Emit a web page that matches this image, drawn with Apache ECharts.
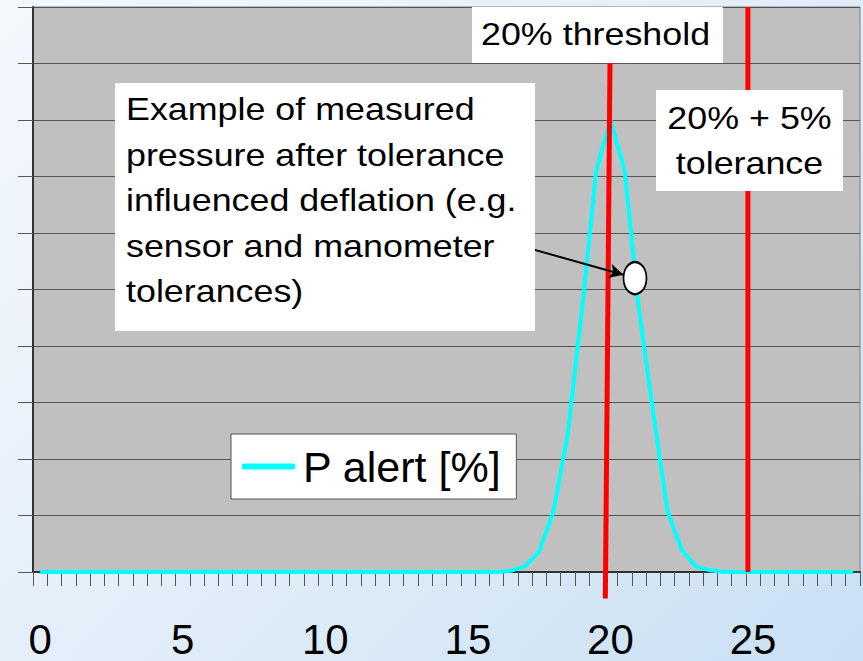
<!DOCTYPE html>
<html>
<head>
<meta charset="utf-8">
<script src="https://cdn.jsdelivr.net/npm/echarts@6/dist/echarts.min.js"></script>
<style>
html,body{margin:0;padding:0;}
#chart{width:863px;height:661px;background:linear-gradient(135deg,#F4F8FD 0%,#E2EEF9 50%,#C9E0F3 100%);}
</style>
</head>
<body>
<div id="chart"></div>
<script>
// x categories (pressure, %), step 0.5
const categories = ['0','0.5','1','1.5','2','2.5','3','3.5','4','4.5','5','5.5','6','6.5','7','7.5','8','8.5','9','9.5',
  '10','10.5','11','11.5','12','12.5','13','13.5','14','14.5','15','15.5','16','16.5','17','17.5','18','18.5','19','19.5',
  '20','20.5','21','21.5','22','22.5','23','23.5','24','24.5','25','25.5','26','26.5','27','27.5','28','28.5'];
// P alert [%] values
const pAlert = [0,0,0,0,0,0,0,0,0,0, 0,0,0,0,0,0,0,0,0,0, 0,0,0,0,0,0,0,0,0,0, 0,0,0,
  0.2,1.0,3.6,10.7,24.3,46.5,71,80,71,46.4,28.2,10.7,3.9,1.0,0.3,
  0,0,0,0,0,0,0,0,0,0];
const seriesName = 'P alert [%]';
// red reference lines: [x, y] end points on a value scale matching the category axis
const thresholdLine = [[20.0, 100], [19.82, -4.7]];
const toleranceLine = [[24.82, 0], [24.82, 100]];
// annotation marker (ellipse) and arrow start, in data units
const markerPoint = [20.86, 52];
const arrowFrom = [16.44, 58.3];
const arrowTo = [20.45, 52.6];
// annotation texts
const thresholdText = '20% threshold';
const toleranceText = '20% + 5%\ntolerance';
const exampleText = 'Example of measured\npressure after tolerance\ninfluenced deflation (e.g.\nsensor and manometer\ntolerances)';

const FONT = '"Liberation Sans", Arial, sans-serif';
const chart = echarts.init(document.getElementById('chart'), null, {renderer: 'svg'});
chart.setOption({
  animation: false,
  backgroundColor: 'transparent',
  grid: {left: 33, right: 3, top: 7, bottom: 89, show: true, backgroundColor: '#C0C0C0', borderColor: '#7f7f7f', borderWidth: 1},
  legend: {
    data: [seriesName], selectedMode: false, left: 231, top: 434,
    backgroundColor: '#fff', borderColor: '#555', borderWidth: 1,
    padding: [11, 15, 11, 11], icon: 'roundRect', itemWidth: 53, itemHeight: 6,
    textStyle: {fontSize: 43, fontFamily: FONT, color: '#000', padding: [0, 0, 0, 3]}
  },
  xAxis: [{
    type: 'category', data: categories, boundaryGap: true,
    axisLine: {show: true, onZero: false, lineStyle: {color: '#333', width: 2}},
    axisTick: {show: true, interval: 0, length: 14, lineStyle: {color: '#555'}},
    axisLabel: {interval: 9, fontSize: 42, fontFamily: FONT, color: '#000', margin: 46},
    splitLine: {show: false}
  }, {
    type: 'value', min: -0.25, max: 28.75, show: false
  }],
  yAxis: {
    type: 'value', min: 0, max: 100, interval: 10,
    axisLine: {show: true, onZero: false, lineStyle: {color: '#333', width: 2}},
    axisTick: {show: true, length: 15, lineStyle: {color: '#555'}},
    axisLabel: {show: false},
    splitLine: {show: true, lineStyle: {color: '#555', width: 1}}
  },
  series: [{
    name: seriesName, type: 'line', data: pAlert, symbol: 'none',
    lineStyle: {color: '#00FFFF', width: 4}, itemStyle: {color: '#00FFFF'}, z: 3
  }, {
    type: 'line', xAxisIndex: 1, data: thresholdLine, symbol: 'none', clip: false, silent: true,
    lineStyle: {color: '#FF0000', width: 5}, z: 4
  }, {
    type: 'line', xAxisIndex: 1, data: toleranceLine, symbol: 'none', clip: false, silent: true,
    lineStyle: {color: '#FF0000', width: 5}, z: 4
  }, {
    type: 'scatter', xAxisIndex: 1, data: [markerPoint], symbol: 'circle', symbolSize: [23, 32], silent: true,
    itemStyle: {color: '#fff', borderColor: '#000', borderWidth: 2, opacity: 1}, z: 6,
    markLine: {
      silent: true, symbol: ['none', 'arrow'], symbolSize: [11, 14],
      label: {show: false},
      lineStyle: {color: '#000', width: 2, type: 'solid'},
      data: [[{coord: arrowFrom}, {coord: arrowTo}]]
    }
  }],
  graphic: [
    {type: 'rect', shape: {x: 115, y: 83, width: 420, height: 248}, style: {fill: '#fff'}, z: 100},
    {type: 'text', x: 126, y: 200, scaleX: 1.12, z: 101,
      style: {text: exampleText, font: '32px ' + FONT, fill: '#000', lineHeight: 45.5, textAlign: 'left', textVerticalAlign: 'middle'}},
    {type: 'rect', shape: {x: 472, y: 7, width: 251, height: 56}, style: {fill: '#fff'}, z: 100},
    {type: 'text', x: 481, y: 34, scaleX: 1.12, z: 101,
      style: {text: thresholdText, font: '32px ' + FONT, fill: '#000', textAlign: 'left', textVerticalAlign: 'middle'}},
    {type: 'rect', shape: {x: 656, y: 90, width: 187, height: 101}, style: {fill: '#fff'}, z: 100},
    {type: 'text', x: 749.5, y: 140, scaleX: 1.12, z: 101,
      style: {text: toleranceText, font: '32px ' + FONT, fill: '#000', lineHeight: 45, textAlign: 'center', textVerticalAlign: 'middle'}}
  ]
});
</script>
</body>
</html>
